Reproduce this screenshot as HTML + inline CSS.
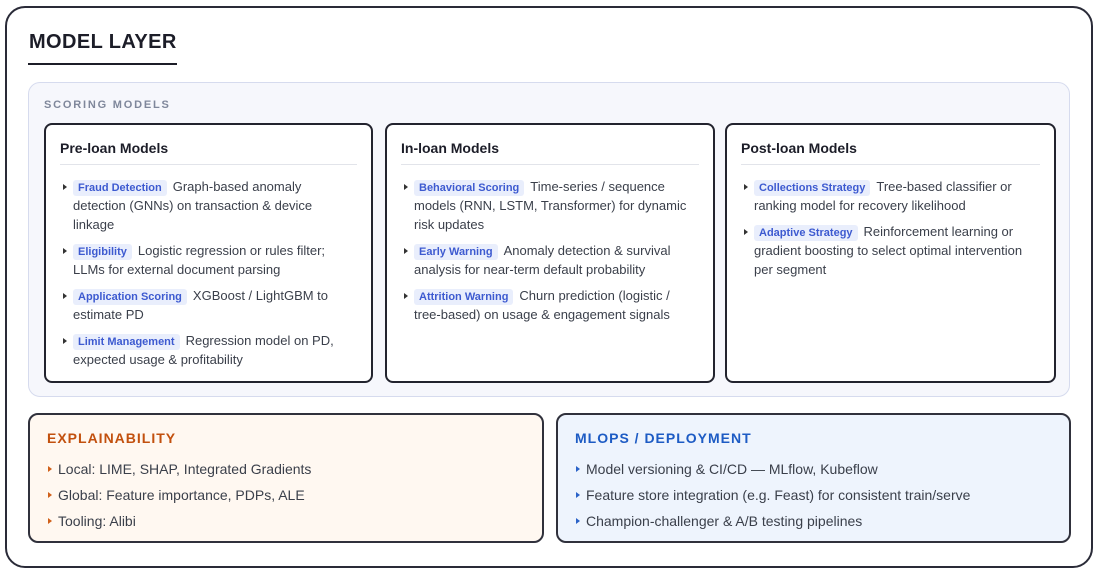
<!DOCTYPE html>
<html><head><meta charset="utf-8"><style>
*{box-sizing:border-box;margin:0;padding:0}
body{width:1100px;height:580px;background:#fff;font-family:"Liberation Sans",sans-serif;position:relative;overflow:hidden;color:#3a3f4a}
.abs{position:absolute}
.outer{left:5px;top:6px;width:1088px;height:562px;border:2px solid #2a2b38;border-radius:20px}
.title{left:29px;top:31px;font-size:20px;font-weight:bold;letter-spacing:0.4px;color:#1c1d28}
.uline{left:28px;top:63px;width:149px;height:2px;background:#1c1d28}
.panel{left:28px;top:82px;width:1042px;height:315px;background:#f6f7fc;border:1.5px solid #d6dbee;border-radius:12px}
.sm{left:44px;top:99px;font-size:11px;font-weight:bold;letter-spacing:1.8px;color:#7f879b}
.card{top:123px;height:260px;background:#fff;border:2px solid #22232e;border-radius:8px}
.ct{position:absolute;left:14px;top:15px;font-size:14px;font-weight:bold;color:#1c1d28}
.sep{position:absolute;left:14px;right:14px;top:39px;height:1px;background:#e2e4ea}
.items{position:absolute;left:27px;top:52px;font-size:13px;line-height:19px;white-space:nowrap}
.it{position:relative;margin-bottom:7px}
.it:before{content:"";position:absolute;left:-10px;top:7px;border-left:4px solid #333;border-top:3px solid transparent;border-bottom:3px solid transparent}
.tag{display:inline-block;background:#e9eefc;color:#3d5ad0;font-size:11px;font-weight:bold;padding:0 5px;line-height:16px;border-radius:3px;margin-right:6px}
.bot{top:413px;height:130px;border:2px solid #30313c;border-radius:10px}
.bt{position:absolute;left:17px;top:15px;font-size:14px;font-weight:bold;letter-spacing:1px}
.bl{position:absolute;left:28px;top:41px;font-size:14px;line-height:26px;white-space:nowrap}
.bl div{position:relative}
.bl div:before{content:"";position:absolute;left:-10px;top:10px;border-left:4px solid var(--c);border-top:3px solid transparent;border-bottom:3px solid transparent}
</style></head><body>
<div class="abs outer"></div>
<div class="abs title">MODEL LAYER</div>
<div class="abs uline"></div>
<div class="abs panel"></div>
<div class="abs sm">SCORING MODELS</div>

<div class="abs card" style="left:44px;width:329px">
<div class="ct">Pre-loan Models</div><div class="sep"></div>
<div class="items">
<div class="it"><span class="tag">Fraud Detection</span>Graph-based anomaly<br>detection (GNNs) on transaction &amp; device<br>linkage</div>
<div class="it"><span class="tag">Eligibility</span>Logistic regression or rules filter;<br>LLMs for external document parsing</div>
<div class="it"><span class="tag">Application Scoring</span>XGBoost / LightGBM to<br>estimate PD</div>
<div class="it"><span class="tag">Limit Management</span>Regression model on PD,<br>expected usage &amp; profitability</div>
</div></div>

<div class="abs card" style="left:385px;width:330px">
<div class="ct">In-loan Models</div><div class="sep"></div>
<div class="items">
<div class="it"><span class="tag">Behavioral Scoring</span>Time-series / sequence<br>models (RNN, LSTM, Transformer) for dynamic<br>risk updates</div>
<div class="it"><span class="tag">Early Warning</span>Anomaly detection &amp; survival<br>analysis for near-term default probability</div>
<div class="it"><span class="tag">Attrition Warning</span>Churn prediction (logistic /<br>tree-based) on usage &amp; engagement signals</div>
</div></div>

<div class="abs card" style="left:725px;width:331px">
<div class="ct">Post-loan Models</div><div class="sep"></div>
<div class="items">
<div class="it"><span class="tag">Collections Strategy</span>Tree-based classifier or<br>ranking model for recovery likelihood</div>
<div class="it"><span class="tag">Adaptive Strategy</span>Reinforcement learning or<br>gradient boosting to select optimal intervention<br>per segment</div>
</div></div>

<div class="abs bot" style="left:28px;width:516px;background:#fff8f1">
<div class="bt" style="color:#c2500e">EXPLAINABILITY</div>
<div class="bl" style="--c:#d0601a">
<div>Local: LIME, SHAP, Integrated Gradients</div>
<div>Global: Feature importance, PDPs, ALE</div>
<div>Tooling: Alibi</div>
</div></div>

<div class="abs bot" style="left:556px;width:515px;background:#eef4fd">
<div class="bt" style="color:#1d5bc4">MLOPS / DEPLOYMENT</div>
<div class="bl" style="--c:#2a62c8">
<div>Model versioning &amp; CI/CD — MLflow, Kubeflow</div>
<div>Feature store integration (e.g. Feast) for consistent train/serve</div>
<div>Champion-challenger &amp; A/B testing pipelines</div>
</div></div>
</body></html>
